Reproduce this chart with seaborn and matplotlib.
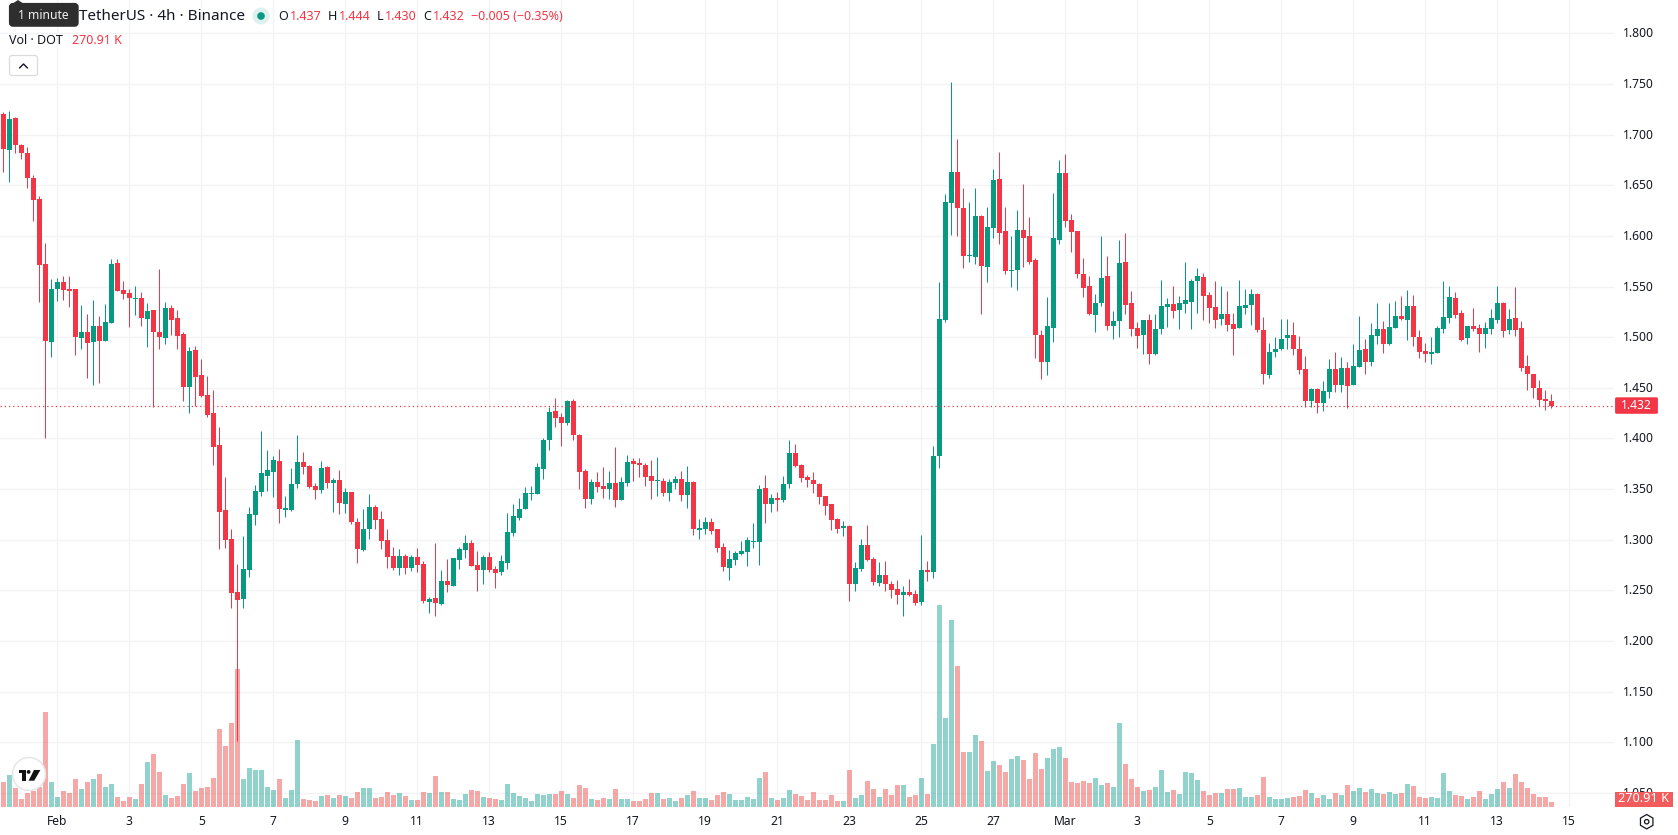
import matplotlib
matplotlib.use("Agg")
import matplotlib.pyplot as plt
from matplotlib.patches import Circle, FancyBboxPatch, Polygon, Rectangle, RegularPolygon
from matplotlib.transforms import ScaledTranslation
import numpy as np
import pandas as pd
import seaborn as sns

# DOT/USDT 4h candles, starting late January; one value per candle
opens = [
    1.7207,1.6845,1.716,1.690,1.682,1.6575,1.636,1.572,1.4956,1.5476,
    1.5545,1.5476,1.5476,1.499,1.505,1.495,1.511,1.496,1.514,1.573,
    1.547,1.544,1.538,1.539,1.518,1.527,1.505,1.499,1.529,1.519,
    1.503,1.451,1.4874,1.463,1.443,1.425,1.3937,1.3295,1.301,1.2486,
    1.241,1.270,1.3246,1.347,1.363,1.3664,1.3773,1.3289,1.3289,1.3546,
    1.3763,1.3723,1.3526,1.3486,1.3713,1.3555,1.3585,1.3348,1.3467,1.317,
    1.2894,1.3101,1.3319,1.32,1.2993,1.2835,1.2716,1.2835,1.2716,1.2825,
    1.2756,1.2381,1.242,1.2361,1.2588,1.2539,1.2795,1.2894,1.2963,1.2746,
    1.2697,1.2825,1.2707,1.2677,1.2766,1.3062,1.3210,1.3299,1.3447,1.3447,
    1.3694,1.398,1.4266,1.4207,1.4148,1.4365,1.4029,1.3674,1.3397,1.3565,
    1.3526,1.3496,1.3555,1.3388,1.3555,1.3773,1.3753,1.3733,1.3625,1.3575,
    1.3575,1.3457,1.3555,1.3595,1.3437,1.3565,1.3091,1.3101,1.317,1.3101,
    1.2924,1.2716,1.2795,1.2855,1.2874,1.2973,1.2973,1.3506,1.3348,1.3407,
    1.3388,1.3546,1.3851,1.3733,1.3615,1.3585,1.3546,1.3427,1.3348,1.32,
    1.3111,1.3131,1.2559,1.2707,1.2943,1.2805,1.2568,1.2647,1.2559,1.2509,
    1.245,1.248,1.246,1.2381,1.2697,1.2677,1.3825,1.5174,1.6329,1.6635,
    1.628,1.5806,1.5796,1.62,1.5697,1.6082,1.6566,1.6053,1.5658,1.5668,
    1.6063,1.6003,1.5757,1.5026,1.475,1.5095,1.5964,1.6625,1.6161,1.6053,
    1.5619,1.551,1.5214,1.5342,1.5599,1.5115,1.5155,1.5747,1.5342,1.5095,
    1.5026,1.5174,1.4829,1.5076,1.5293,1.5332,1.5273,1.5332,1.5352,1.5555,
    1.5595,1.5417,1.5299,1.518,1.523,1.5131,1.5091,1.5289,1.5318,1.5427,
    1.5072,1.4628,1.4855,1.4884,1.4993,1.5022,1.4884,1.4687,1.4371,1.4489,
    1.4351,1.446,1.4687,1.4529,1.4697,1.4529,1.4706,1.4884,1.4756,1.5012,
    1.5082,1.4934,1.5091,1.521,1.517,1.5309,1.5003,1.4865,1.4835,1.4845,
    1.5082,1.519,1.5388,1.5239,1.4993,1.5111,1.5091,1.5032,1.5082,1.517,
    1.5338,1.5072,1.519,1.5091,1.4716,1.4637,1.4499,1.4391,1.437,
]
closes = [
    1.6855,1.7158,1.6895,1.6816,1.657,1.635,1.571,1.4966,1.5476,1.5545,
    1.5467,1.5457,1.500,1.505,1.494,1.511,1.496,1.515,1.572,1.546,
    1.543,1.539,1.539,1.519,1.526,1.505,1.500,1.529,1.517,1.501,
    1.451,1.486,1.461,1.442,1.423,1.3917,1.3275,1.300,1.2476,1.240,
    1.271,1.3256,1.348,1.366,1.369,1.3782,1.3299,1.3309,1.3546,1.3763,
    1.3713,1.3516,1.3486,1.3703,1.3555,1.3585,1.3358,1.3467,1.317,1.2904,
    1.3101,1.3319,1.319,1.2983,1.2825,1.2716,1.2835,1.2716,1.2825,1.2746,
    1.239,1.241,1.2371,1.2588,1.2549,1.2815,1.2904,1.2963,1.2736,1.2697,
    1.2825,1.2697,1.2667,1.2785,1.3072,1.3230,1.3299,1.3457,1.3457,1.3713,
    1.398,1.4256,1.4197,1.4157,1.4365,1.4029,1.3664,1.3397,1.3565,1.3516,
    1.3496,1.3555,1.3388,1.3565,1.3763,1.3743,1.3733,1.3615,1.3575,1.3585,
    1.3457,1.3565,1.3595,1.3437,1.3565,1.3101,1.3111,1.317,1.3082,1.2914,
    1.2726,1.2805,1.2864,1.2884,1.2993,1.2983,1.3496,1.3348,1.3407,1.3388,
    1.3546,1.3851,1.3723,1.3605,1.3585,1.3546,1.3417,1.3328,1.319,1.3101,
    1.3131,1.2559,1.2716,1.2943,1.2795,1.2578,1.2647,1.2559,1.25,1.245,
    1.248,1.245,1.2371,1.2697,1.2677,1.3822,1.5184,1.6339,1.6635,1.628,
    1.5806,1.5816,1.62,1.5707,1.6092,1.6556,1.6033,1.5658,1.5668,1.6063,
    1.5984,1.5747,1.5026,1.475,1.5115,1.5984,1.6625,1.6151,1.6043,1.5619,
    1.549,1.5224,1.5342,1.5589,1.5115,1.5155,1.5737,1.5322,1.5085,1.5016,
    1.5174,1.4829,1.5085,1.5303,1.5332,1.5263,1.5342,1.5362,1.5559,1.5605,
    1.5407,1.5289,1.517,1.523,1.5121,1.5082,1.5309,1.5318,1.5427,1.5072,
    1.4637,1.4855,1.4884,1.4983,1.5022,1.4884,1.4677,1.4371,1.4489,1.4351,
    1.447,1.4687,1.4529,1.4697,1.4519,1.4716,1.4874,1.4756,1.5022,1.5082,
    1.4934,1.5101,1.521,1.518,1.5309,1.5003,1.4855,1.4835,1.4855,1.5091,
    1.52,1.5397,1.522,1.4973,1.5111,1.5082,1.5032,1.5091,1.519,1.5338,
    1.5062,1.518,1.5072,1.4697,1.4637,1.4499,1.4381,1.4371,1.432,
]
highs = [
    1.7224,1.7237,1.717,1.691,1.688,1.6605,1.639,1.593,1.5575,1.5585,
    1.5605,1.5605,1.5476,1.532,1.523,1.537,1.521,1.533,1.577,1.577,
    1.5555,1.548,1.5506,1.545,1.534,1.527,1.5674,1.535,1.532,1.527,
    1.505,1.490,1.491,1.4785,1.462,1.448,1.411,1.362,1.311,1.276,
    1.304,1.332,1.354,1.4075,1.389,1.383,1.390,1.3427,1.3703,1.403,
    1.387,1.3733,1.3555,1.3773,1.3723,1.3605,1.3684,1.3506,1.3467,1.321,
    1.3299,1.3447,1.3338,1.3279,1.3101,1.2924,1.2904,1.2855,1.2845,1.2914,
    1.2785,1.243,1.2963,1.2697,1.2805,1.2815,1.2924,1.3042,1.2993,1.2884,
    1.2845,1.2874,1.2736,1.2845,1.3259,1.3348,1.3407,1.3516,1.3526,1.3753,
    1.4,1.4306,1.4404,1.4246,1.4384,1.4394,1.4039,1.3694,1.3595,1.3664,
    1.3713,1.3674,1.3911,1.3615,1.3832,1.3802,1.3802,1.3753,1.3782,1.3812,
    1.3605,1.3595,1.3625,1.3674,1.3723,1.3575,1.32,1.322,1.321,1.3101,
    1.2963,1.2894,1.2884,1.2983,1.3022,1.316,1.3536,1.3634,1.3447,1.3467,
    1.3625,1.398,1.394,1.3743,1.3634,1.3664,1.3555,1.3427,1.3348,1.321,
    1.318,1.3141,1.2776,1.3003,1.3141,1.2825,1.2776,1.2785,1.2588,1.2598,
    1.2539,1.2608,1.2499,1.3042,1.2785,1.3921,1.5549,1.6418,1.7523,1.6961,
    1.6477,1.6339,1.6477,1.6211,1.629,1.6665,1.6833,1.629,1.5994,1.626,
    1.6517,1.6191,1.5786,1.5066,1.5401,1.6428,1.6754,1.6813,1.6221,1.6053,
    1.5786,1.5599,1.5431,1.5994,1.5806,1.5263,1.5964,1.6033,1.546,1.5145,
    1.5174,1.5224,1.5224,1.5569,1.5391,1.551,1.5411,1.5747,1.5579,1.5684,
    1.5634,1.5447,1.5555,1.5506,1.5457,1.524,1.5565,1.5476,1.5476,1.5437,
    1.52,1.4943,1.5003,1.518,1.518,1.5151,1.5012,1.4815,1.4499,1.4499,
    1.4568,1.4785,1.4855,1.4805,1.4756,1.4934,1.521,1.4983,1.5141,1.5338,
    1.516,1.5338,1.5358,1.5407,1.5467,1.5417,1.5072,1.4943,1.5003,1.5111,
    1.5555,1.5506,1.5447,1.5269,1.5111,1.5289,1.5131,1.5151,1.5279,1.5506,
    1.5348,1.5279,1.5496,1.516,1.4825,1.4637,1.4578,1.448,1.444,
]
lows = [
    1.6635,1.6529,1.6816,1.6756,1.647,1.615,1.5345,1.400,1.480,1.536,
    1.537,1.530,1.482,1.488,1.460,1.453,1.455,1.496,1.514,1.546,
    1.538,1.510,1.522,1.511,1.4904,1.4315,1.488,1.493,1.502,1.488,
    1.437,1.425,1.432,1.441,1.421,1.374,1.291,1.292,1.233,1.101,
    1.233,1.263,1.314,1.343,1.348,1.3417,1.316,1.322,1.328,1.3506,
    1.365,1.3506,1.3398,1.3457,1.3506,1.327,1.325,1.326,1.315,1.2766,
    1.2884,1.3003,1.3101,1.2904,1.2716,1.2697,1.2647,1.2657,1.2687,1.2677,
    1.2371,1.2272,1.2243,1.2351,1.2479,1.2539,1.2707,1.2815,1.2736,1.249,
    1.2559,1.2677,1.2519,1.2647,1.2707,1.3032,1.319,1.3299,1.3388,1.3447,
    1.3595,1.3881,1.4108,1.3921,1.4128,1.398,1.3496,1.3309,1.3348,1.3467,
    1.3407,1.3397,1.3319,1.3388,1.3526,1.3575,1.3615,1.3526,1.3397,1.3427,
    1.3427,1.3378,1.3496,1.3378,1.3309,1.3042,1.3003,1.3052,1.3052,1.2874,
    1.2687,1.2598,1.2746,1.2845,1.2736,1.2914,1.2746,1.316,1.3269,1.3279,
    1.3368,1.3506,1.3713,1.3565,1.3516,1.3457,1.3348,1.3239,1.3091,1.3062,
    1.3032,1.2391,1.249,1.2687,1.2785,1.2549,1.2539,1.249,1.242,1.2361,
    1.2243,1.244,1.2351,1.2351,1.2588,1.2618,1.3704,1.5145,1.6013,1.5994,
    1.5678,1.5747,1.5727,1.5224,1.5549,1.5984,1.5915,1.5628,1.55,1.547,
    1.5688,1.5727,1.4799,1.4582,1.4622,1.4957,1.5915,1.6092,1.5836,1.5589,
    1.5392,1.5214,1.5046,1.5312,1.5066,1.4977,1.4997,1.5224,1.5007,1.4888,
    1.4829,1.473,1.4819,1.5036,1.5105,1.5194,1.5085,1.5243,1.5085,1.524,
    1.517,1.5141,1.5091,1.5121,1.5062,1.4825,1.5091,1.523,1.5121,1.5052,
    1.4539,1.4598,1.4805,1.4874,1.4884,1.4825,1.4637,1.4312,1.4312,1.4253,
    1.4272,1.4401,1.446,1.446,1.4302,1.4529,1.4706,1.4637,1.4716,1.4934,
    1.4845,1.4924,1.5091,1.517,1.4973,1.4914,1.4795,1.4756,1.4736,1.4845,
    1.5042,1.5141,1.519,1.4963,1.4934,1.5062,1.4855,1.4894,1.5032,1.5141,
    1.5003,1.5032,1.5012,1.4667,1.448,1.4401,1.4322,1.4282,1.430,
]
# traded volume per candle, thousands of DOT
volumes_k = [
    1355,1734,1029,433,759,867,1084,5147,1355,542,
    867,759,1517,975,1355,1517,1788,1084,1246,542,
    325,542,433,1246,2438,2872,1896,650,488,596,
    1246,1842,867,1029,1084,1571,4226,3305,4551,7477,
    1517,2113,2005,2005,1084,921,1517,488,921,3630,
    433,379,325,596,650,488,650,596,488,813,
    1029,1029,488,542,813,650,759,596,379,379,
    813,759,1680,813,813,433,379,704,921,867,
    542,488,433,379,1246,759,596,488,325,704,
    650,704,704,867,704,488,1192,1029,433,379,
    488,433,975,433,433,325,325,433,759,759,
    433,488,325,488,650,867,488,488,379,650,
    813,704,379,379,542,433,1571,1896,488,379,
    488,921,704,596,379,813,379,379,650,325,
    325,2005,488,650,1409,975,542,975,650,1192,
    1192,542,650,1571,704,3413,10944,4822,10132,7639,
    2980,2980,3901,3576,1950,2492,2276,1896,2601,2763,
    2547,1517,2926,2059,2655,3142,3251,2655,1355,1300,
    1409,1300,1571,1192,1300,1084,4551,2330,1517,1084,
    867,921,1084,2005,813,921,704,1896,1842,1463,
    867,650,759,759,975,975,1029,542,542,650,
    1625,542,433,433,488,542,596,921,759,488,
    650,433,759,650,1192,867,1029,813,975,759,
    704,813,704,759,1246,1138,542,488,542,488,
    1842,867,650,596,433,542,867,433,704,975,
    1355,1029,1788,1355,1029,704,542,542,270.91,
]
price_ticks = [1.05,1.10,1.15,1.20,1.25,1.30,1.35,1.40,1.45,1.50,1.55,1.60,1.65,1.70,1.75,1.80]
# the first date label sits on candle 9, with one label every 12 candles
date_labels = ["Feb","3","5","7","9","11","13","15","17","19","21","23","25","27",
               "Mar","3","5","7","9","11","13","15"]
last_price = 1.432
last_volume = "270.91 K"

UP, DOWN = "#089981", "#F23645"
VOL_UP, VOL_DOWN = "#26a69a", "#ef5350"
GRID = "#f2f3f5"
INK = "#131722"
W, H = 1678, 835

sns.set_theme(style="white")
plt.rcParams["font.family"] = ["Noto Sans", "DejaVu Sans"]

candles = pd.DataFrame({"open": opens, "high": highs, "low": lows,
                        "close": closes, "volume": volumes_k})
candles["idx"] = np.arange(len(candles))
candles["side"] = np.where(candles["close"] >= candles["open"], "up", "down")

fig = plt.figure(figsize=(W / 100, H / 100), dpi=100, facecolor="white")
rect = [0, 28 / H, 1614 / W, 807 / H]
xlim = (-0.55, 268.45)
ylim = (1.0360, 1.83295)
date_ticks = [9 + 12 * k for k in range(len(date_labels))]

# bottom layer: grid only
ax_grid = fig.add_axes(rect, zorder=0)
ax_grid.set_facecolor("white")
ax_grid.set_xlim(xlim)
ax_grid.set_ylim(ylim)
ax_grid.set_xticks(date_ticks)
ax_grid.set_yticks(price_ticks)
ax_grid.grid(True, color=GRID, linewidth=1.0)
ax_grid.tick_params(length=0, labelbottom=False, labelleft=False)
sns.despine(ax=ax_grid, left=True, bottom=True)

# middle layer: volume histogram in the lower part of the pane
ax_vol = fig.add_axes(rect, zorder=1)
ax_vol.patch.set_visible(False)
sns.barplot(data=candles, x="idx", y="volume", hue="side",
            palette={"up": VOL_UP, "down": VOL_DOWN}, dodge=False, native_scale=True,
            width=0.84, saturation=1, alpha=0.5, linewidth=0, errorbar=None,
            legend=False, ax=ax_vol)
ax_vol.set_xlim(xlim)
ax_vol.set_ylim(0, 43723)
ax_vol.axis("off")

# top layer: candles and the price axis
ax = fig.add_axes(rect, zorder=2)
ax.patch.set_visible(False)
colors = np.where(candles["side"] == "up", UP, DOWN)
ax.vlines(candles["idx"], candles["low"], candles["high"], colors=colors, linewidth=0.72)
body_low = candles[["open", "close"]].min(axis=1)
body_h = (candles["close"] - candles["open"]).abs().clip(lower=0.001)
ax.bar(candles["idx"], body_h, bottom=body_low, width=0.84, color=colors, linewidth=0)
ax.axhline(last_price, color=DOWN, linewidth=0.9, linestyle=(0, (1, 2.4)))

ax.set_xlim(xlim)
ax.set_ylim(ylim)
ax.set_xticks(date_ticks)
ax.set_xticklabels(date_labels)
for tick in ax.get_xticklabels():
    if tick.get_text() in ("Feb", "Mar"):
        tick.set_fontweight("bold")
ax.yaxis.tick_right()
ax.set_yticks(price_ticks)
ax.set_yticklabels([f"{p:.3f}" for p in price_ticks])
ax.tick_params(axis="x", length=0, pad=5.6, labelsize=8.7, labelcolor=INK)
ax.tick_params(axis="y", length=0, pad=6.4, labelsize=8.7, labelcolor=INK)
# nudge the price labels one pixel up so they centre on their gridlines
nudge = ScaledTranslation(0, 1 / 100, fig.dpi_scale_trans)
for label in ax.get_yticklabels():
    label.set_transform(label.get_transform() + nudge)
ax.grid(False)
for spine in ax.spines.values():
    spine.set_visible(False)

# overlay in figure pixels for the header, badges and watermark
ov = fig.add_axes([0, 0, 1, 1], zorder=5)
ov.set_xlim(0, W)
ov.set_ylim(H, 0)
ov.axis("off")
ov.patch.set_visible(False)

FS = 9.0
ov.text(78.6, 16.5, "TetherUS · 4h · Binance", fontsize=11.0, color=INK, va="center", ha="left")
ov.add_patch(Polygon([(12, 4), (18, 0), (24, 4)], closed=True, color="#2e2e2e", lw=0))
ov.add_patch(FancyBboxPatch((11, 5), 65.6, 19.7, boxstyle="round,pad=0,rounding_size=2",
                            facecolor="#2e2e2e", edgecolor="#2e2e2e", linewidth=3))
ov.text(43.5, 15.5, "1 minute", fontsize=8.7, color="#f2f2f2", va="center", ha="center")

ov.add_patch(Circle((261, 16), 8.5, facecolor="#dff1ee", edgecolor="none"))
ov.add_patch(Circle((261, 16), 3.8, facecolor=UP, edgecolor="none"))
for x, letter in [(278, "O"), (327.5, "H"), (376.8, "L"), (423, "C")]:
    ov.text(x, 16.8, letter, fontsize=FS, color=INK, va="center", ha="left")
for x, value in [(290, "1.437"), (338.6, "1.444"), (384.6, "1.430"), (433, "1.432"),
                 (471, "−0.005 (−0.35%)")]:
    ov.text(x, 16.8, value, fontsize=FS, color=DOWN, va="center", ha="left")
ov.text(9, 40.5, "Vol · DOT", fontsize=FS, color=INK, va="center", ha="left")
ov.text(72, 40.5, last_volume, fontsize=FS, color=DOWN, va="center", ha="left")

ov.add_patch(FancyBboxPatch((9.5, 55.5), 28, 20, boxstyle="round,pad=0,rounding_size=2.5",
                            facecolor="white", edgecolor="#dcdcdc", linewidth=0.9))
ov.plot([19.5, 23.5, 27.5], [68, 64, 68], color=INK, linewidth=1.0, solid_capstyle="round")

# watermark badge
ov.add_patch(Circle((29, 774), 16.5, facecolor="white", edgecolor="#e6e6e6", linewidth=1.1))
ov.add_patch(Polygon([(19, 770), (25.8, 770), (25.8, 780.7), (22.4, 780.7), (22.4, 773.4), (19, 773.4)],
                     closed=True, color="#131313", lw=0))
ov.add_patch(Circle((28.6, 771.9), 1.9, color="#131313", lw=0))
ov.add_patch(Polygon([(34, 770), (40.4, 770), (34.2, 780.7), (28.6, 780.7)],
                     closed=True, color="#131313", lw=0))

# last-value badges on the price scale
ov.add_patch(FancyBboxPatch((1615.5, 397.8), 42, 15.5, boxstyle="round,pad=0,rounding_size=1",
                            facecolor=DOWN, edgecolor=DOWN, linewidth=0.6))
ov.text(1636.5, 405.6, f"{last_price:.3f}", fontsize=8.7, color="white", va="center", ha="center")
ov.add_patch(Rectangle((1615, 791.5), 57.6, 15.3, facecolor="#f25c5c", edgecolor="none"))
ov.text(1644, 799, last_volume, fontsize=9.2, color="white", va="center", ha="center")

# scale settings glyph
ov.add_patch(RegularPolygon((1646.7, 821.7), 6, radius=7.2, orientation=0,
                            facecolor="white", edgecolor=INK, linewidth=0.9))
ov.add_patch(Circle((1646.7, 821.7), 2.2, facecolor="white", edgecolor=INK, linewidth=0.9))

fig.savefig("out.png", dpi=100, facecolor="white")
